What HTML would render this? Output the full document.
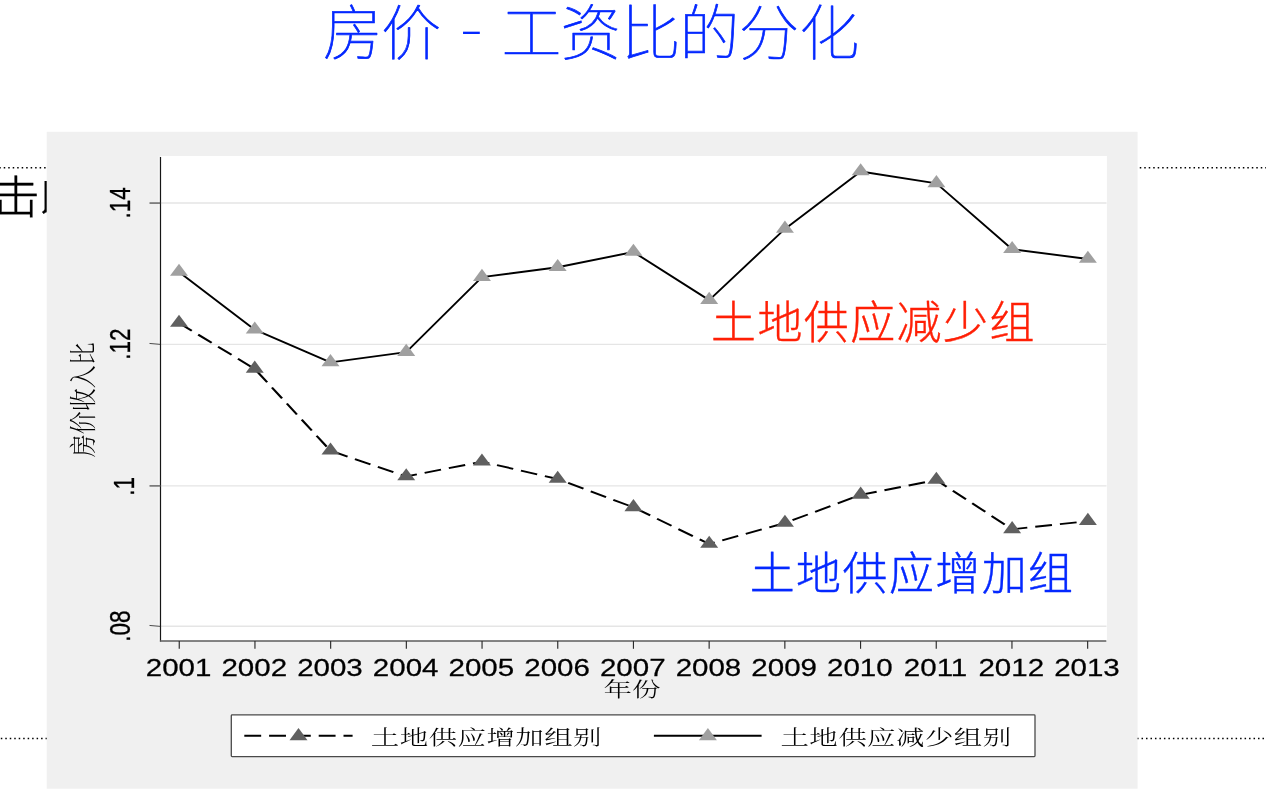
<!DOCTYPE html>
<html lang="zh-CN"><head><meta charset="utf-8">
<title>房价 - 工资比的分化</title>
<style>
html,body{margin:0;padding:0;background:#fff;}
body{width:1266px;height:796px;overflow:hidden;position:relative;}
#slide{position:absolute;left:0;top:0;width:1266px;height:796px;display:block;}
.sans{font-family:"Liberation Sans","Noto Sans CJK SC",sans-serif;}
.song{font-family:"Liberation Serif","Noto Serif CJK SC",serif;}
.num{font-family:"Liberation Sans",sans-serif;stroke:#000;stroke-width:0.25px;}
</style></head><body>
<svg id="slide" width="1266" height="796" viewBox="0 0 1266 796">
<rect width="1266" height="796" fill="#fff"/>
<line x1="-0.75" x2="47.5" y1="167.7" y2="167.7" stroke="#000" stroke-width="1.5" stroke-dasharray="1.5 2.987"/>
<line x1="1139.77" x2="1268" y1="167.7" y2="167.7" stroke="#000" stroke-width="1.5" stroke-dasharray="1.5 2.981"/>
<line x1="0.81" x2="47.5" y1="738.46" y2="738.46" stroke="#000" stroke-width="1.35" stroke-dasharray="1.5 2.975"/>
<line x1="1137.05" x2="1264.6" y1="738.46" y2="738.46" stroke="#000" stroke-width="1.35" stroke-dasharray="1.5 2.980"/>
<text class="sans" transform="translate(-57.1,213.8) scale(1.0126,0.953)" x="0 48 92.4 144 192" y="0 0 2.6 0 0" font-size="48" font-weight="300" fill="#000" stroke="#000" stroke-width="0.3">双击以编辑</text>
<g id="title" class="sans" font-size="60" font-weight="100" fill="#0428ff" stroke="#0428ff" stroke-width="0.7" stroke-linejoin="round">
<text x="323.05 381.1" y="55">房价</text>
<text transform="translate(441.0,40.5) scale(1.144,0.5)" stroke="none" xml:space="preserve"> - </text>
<text x="501.5 560.75 620.5 679.6 738.9 799.15" y="55">工资比的分化</text>
</g>
<g id="chart">
<rect x="46.7" y="131.8" width="1090.90" height="656.90" fill="#f0f0f0"/>
<rect x="160.5" y="156.0" width="946.40" height="484.90" fill="#fff"/>
<rect x="158" y="156.6" width="2.5" height="484.30" fill="#f5f5f5"/>
<line x1="160.5" x2="1106.50" y1="202.95" y2="202.95" stroke="#e5e5e5" stroke-width="1.35"/>
<line x1="160.5" x2="1106.50" y1="344.4" y2="344.4" stroke="#e5e5e5" stroke-width="1.35"/>
<line x1="160.5" x2="1106.50" y1="485.9" y2="485.9" stroke="#e5e5e5" stroke-width="1.35"/>
<line x1="160.5" x2="1106.50" y1="626.25" y2="626.25" stroke="#e5e5e5" stroke-width="1.35"/>
<line x1="160.5" x2="160.5" y1="157" y2="641.5" stroke="#161616" stroke-width="1.2"/>
<line x1="159.90" x2="1106.30" y1="641.10" y2="641.10" stroke="#5c5c5c" stroke-width="1.5"/>
<line x1="149.5" x2="160.5" y1="203.05" y2="203.05" stroke="#3a3a3a" stroke-width="1.15"/>
<line x1="149.5" x2="160.5" y1="343.45" y2="344.4" stroke="#222" stroke-width="0.8"/>
<line x1="149.5" x2="160.5" y1="485.9" y2="485.9" stroke="#666" stroke-width="1.5"/>
<line x1="149.5" x2="160.5" y1="625.45" y2="626.4" stroke="#222" stroke-width="0.8"/>
<line x1="179.25" x2="179.25" y1="640.9" y2="648.8" stroke="#2a2a2a" stroke-width="1.15"/>
<line x1="254.95" x2="254.95" y1="640.9" y2="648.8" stroke="#2a2a2a" stroke-width="1.15"/>
<line x1="330.65" x2="330.65" y1="640.9" y2="648.8" stroke="#2a2a2a" stroke-width="1.15"/>
<line x1="406.35" x2="406.35" y1="640.9" y2="648.8" stroke="#2a2a2a" stroke-width="1.15"/>
<line x1="482.05" x2="482.05" y1="640.9" y2="648.8" stroke="#2a2a2a" stroke-width="1.15"/>
<line x1="557.75" x2="557.75" y1="640.9" y2="648.8" stroke="#2a2a2a" stroke-width="1.15"/>
<line x1="633.45" x2="633.45" y1="640.9" y2="648.8" stroke="#2a2a2a" stroke-width="1.15"/>
<line x1="709.15" x2="709.15" y1="640.9" y2="648.8" stroke="#2a2a2a" stroke-width="1.15"/>
<line x1="784.85" x2="784.85" y1="640.9" y2="648.8" stroke="#2a2a2a" stroke-width="1.15"/>
<line x1="860.55" x2="860.55" y1="640.9" y2="648.8" stroke="#2a2a2a" stroke-width="1.15"/>
<line x1="936.25" x2="936.25" y1="640.9" y2="648.8" stroke="#2a2a2a" stroke-width="1.15"/>
<line x1="1011.95" x2="1011.95" y1="640.9" y2="648.8" stroke="#2a2a2a" stroke-width="1.15"/>
<line x1="1087.65" x2="1087.65" y1="640.9" y2="648.8" stroke="#2a2a2a" stroke-width="1.15"/>
<text class="num" transform="translate(129.9,202.85) rotate(-90) scale(1,1.35)" font-size="22.5" text-anchor="middle" fill="#000">.14</text>
<text class="num" transform="translate(129.9,344.2) rotate(-90) scale(1,1.35)" font-size="22.5" text-anchor="middle" fill="#000">.12</text>
<text class="num" transform="translate(133.6,486.3) rotate(-90) scale(1,1.35)" font-size="22.5" text-anchor="middle" fill="#000">.1</text>
<text class="num" transform="translate(129.9,626.0) rotate(-90) scale(1,1.35)" font-size="22.5" text-anchor="middle" fill="#000">.08</text>
<text class="num" transform="translate(178.55,675.8) scale(1.23,1)" font-size="24.0" text-anchor="middle" fill="#000">2001</text>
<text class="num" transform="translate(254.25,675.8) scale(1.23,1)" font-size="24.0" text-anchor="middle" fill="#000">2002</text>
<text class="num" transform="translate(329.95,675.8) scale(1.23,1)" font-size="24.0" text-anchor="middle" fill="#000">2003</text>
<text class="num" transform="translate(405.65,675.8) scale(1.23,1)" font-size="24.0" text-anchor="middle" fill="#000">2004</text>
<text class="num" transform="translate(481.35,675.8) scale(1.23,1)" font-size="24.0" text-anchor="middle" fill="#000">2005</text>
<text class="num" transform="translate(557.05,675.8) scale(1.23,1)" font-size="24.0" text-anchor="middle" fill="#000">2006</text>
<text class="num" transform="translate(632.75,675.8) scale(1.23,1)" font-size="24.0" text-anchor="middle" fill="#000">2007</text>
<text class="num" transform="translate(708.45,675.8) scale(1.23,1)" font-size="24.0" text-anchor="middle" fill="#000">2008</text>
<text class="num" transform="translate(784.15,675.8) scale(1.23,1)" font-size="24.0" text-anchor="middle" fill="#000">2009</text>
<text class="num" transform="translate(859.85,675.8) scale(1.23,1)" font-size="24.0" text-anchor="middle" fill="#000">2010</text>
<text class="num" transform="translate(935.55,675.8) scale(1.23,1)" font-size="24.0" text-anchor="middle" fill="#000">2011</text>
<text class="num" transform="translate(1011.25,675.8) scale(1.23,1)" font-size="24.0" text-anchor="middle" fill="#000">2012</text>
<text class="num" transform="translate(1086.95,675.8) scale(1.23,1)" font-size="24.0" text-anchor="middle" fill="#000">2013</text>
<text class="song" transform="translate(632.1,697.2) scale(1.39,1)" font-size="20.5" font-weight="300" text-anchor="middle" fill="#000">年份</text>
<text class="song" transform="translate(93,399.7) rotate(-90) scale(1,1.2)" font-size="23" font-weight="300" text-anchor="middle" fill="#000">房价收入比</text>
<polyline points="179.00,272.00 254.74,329.70 330.48,362.40 406.22,352.10 481.96,277.10 557.70,267.20 633.44,252.00 709.18,300.10 784.92,228.90 860.66,171.50 936.40,183.40 1012.14,249.20 1087.88,259.00" fill="none" stroke="#000" stroke-width="1.9" stroke-linejoin="round"/>
<g transform="scale(1.24,1)"><polyline points="144.35,323.00 205.44,368.90 266.52,450.70 327.60,476.50 388.68,461.70 449.76,479.00 510.84,507.30 571.92,544.00 633.00,523.00 694.08,494.90 755.16,480.00 816.24,529.30 877.32,521.10" fill="none" stroke="#000" stroke-width="1.9" stroke-dasharray="13.6 6.46" stroke-dashoffset="0.7"/></g>
<polygon points="179.00,263.70 170.00,275.85 188.00,275.85" fill="#a0a0a0"/>
<polygon points="254.74,321.40 245.74,333.55 263.74,333.55" fill="#a0a0a0"/>
<polygon points="330.48,354.10 321.48,366.25 339.48,366.25" fill="#a0a0a0"/>
<polygon points="406.22,343.80 397.22,355.95 415.22,355.95" fill="#a0a0a0"/>
<polygon points="481.96,268.80 472.96,280.95 490.96,280.95" fill="#a0a0a0"/>
<polygon points="557.70,258.90 548.70,271.05 566.70,271.05" fill="#a0a0a0"/>
<polygon points="633.44,243.70 624.44,255.85 642.44,255.85" fill="#a0a0a0"/>
<polygon points="709.18,291.80 700.18,303.95 718.18,303.95" fill="#a0a0a0"/>
<polygon points="784.92,220.60 775.92,232.75 793.92,232.75" fill="#a0a0a0"/>
<polygon points="860.66,163.20 851.66,175.35 869.66,175.35" fill="#a0a0a0"/>
<polygon points="936.40,175.10 927.40,187.25 945.40,187.25" fill="#a0a0a0"/>
<polygon points="1012.14,240.90 1003.14,253.05 1021.14,253.05" fill="#a0a0a0"/>
<polygon points="1087.88,250.70 1078.88,262.85 1096.88,262.85" fill="#a0a0a0"/>
<polygon points="179.00,314.70 170.00,326.85 188.00,326.85" fill="#606060"/>
<polygon points="254.74,360.60 245.74,372.75 263.74,372.75" fill="#606060"/>
<polygon points="330.48,442.40 321.48,454.55 339.48,454.55" fill="#606060"/>
<polygon points="406.22,468.20 397.22,480.35 415.22,480.35" fill="#606060"/>
<polygon points="481.96,453.40 472.96,465.55 490.96,465.55" fill="#606060"/>
<polygon points="557.70,470.70 548.70,482.85 566.70,482.85" fill="#606060"/>
<polygon points="633.44,499.00 624.44,511.15 642.44,511.15" fill="#606060"/>
<polygon points="709.18,535.70 700.18,547.85 718.18,547.85" fill="#606060"/>
<polygon points="784.92,514.70 775.92,526.85 793.92,526.85" fill="#606060"/>
<polygon points="860.66,486.60 851.66,498.75 869.66,498.75" fill="#606060"/>
<polygon points="936.40,471.70 927.40,483.85 945.40,483.85" fill="#606060"/>
<polygon points="1012.14,521.00 1003.14,533.15 1021.14,533.15" fill="#606060"/>
<polygon points="1087.88,512.80 1078.88,524.95 1096.88,524.95" fill="#606060"/>
<rect x="231.3" y="714.9" width="803.7" height="41.75" rx="0.8" fill="#fff" stroke="#4a4a4a" stroke-width="1.3"/>
<g transform="scale(1.24,1)"><line x1="197.02" x2="284.35" y1="735.8" y2="735.8" stroke="#000" stroke-width="2" stroke-dasharray="13.6 6.4"/></g>
<polygon points="298.50,728.10 289.50,740.25 307.50,740.25" fill="#606060"/>
<line x1="653.9" x2="761.6" y1="735.8" y2="735.8" stroke="#000" stroke-width="2"/>
<polygon points="707.90,728.10 698.90,740.25 716.90,740.25" fill="#a0a0a0"/>
<text class="song" transform="translate(370.8,745.3) scale(1.39,1)" font-size="20.5" font-weight="300" letter-spacing="0.3" fill="#000">土地供应增加组别</text>
<text class="song" transform="translate(780.4,745.3) scale(1.39,1)" font-size="20.5" font-weight="300" letter-spacing="0.3" fill="#000">土地供应减少组别</text>
</g>
<text class="sans" x="711.0" y="339.2" font-size="45" font-weight="300" letter-spacing="1.4" fill="#ff1f05" stroke="#ff1f05" stroke-width="0.4">土地供应减少组</text>
<text class="sans" x="749.7" y="590.3" font-size="45" font-weight="300" letter-spacing="1.4" fill="#0428ff" stroke="#0428ff" stroke-width="0.4">土地供应增加组</text>
</svg>
</body></html>
